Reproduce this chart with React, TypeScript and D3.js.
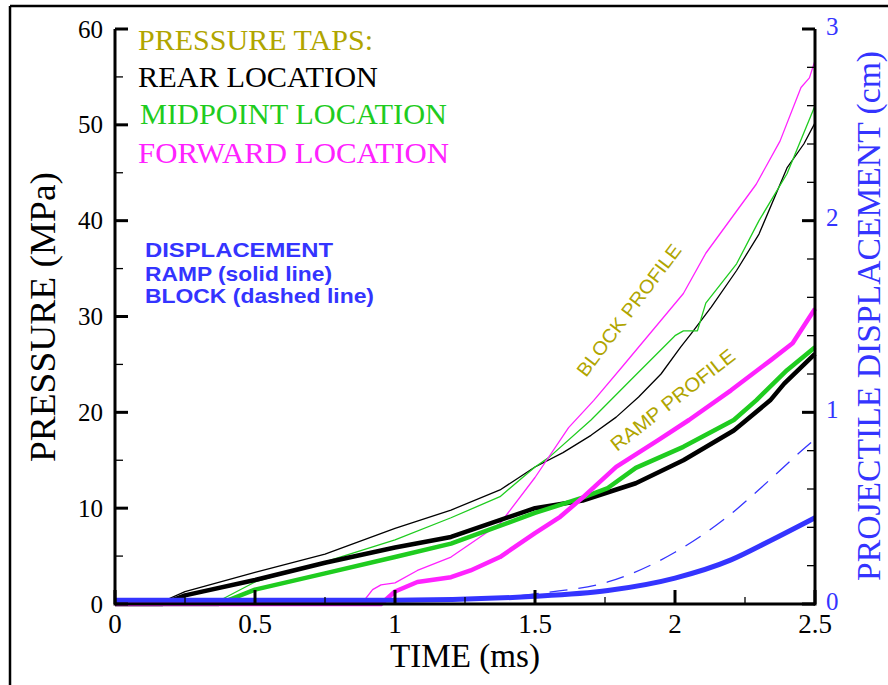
import React from "react";
import * as d3 from "d3";

// axis ticks
const timeTicks = [0, 0.5, 1, 1.5, 2, 2.5];
const timeMinor = [0.25, 0.75, 1.25, 1.75, 2.25];
const pressureTicks = [0, 10, 20, 30, 40, 50, 60];
const pressureMinor = [5, 15, 25, 35, 45, 55];
const dispTicks = [0, 1, 2, 3];
const dispMinor = [0.2, 0.4, 0.6, 0.8, 1.2, 1.4, 1.6, 1.8, 2.2, 2.4, 2.6, 2.8];

// block profile (thin lines), pressure in MPa
const blockRearT = [0, 0.15, 0.25, 0.5, 0.75, 1.0, 1.2, 1.375, 1.5, 1.6, 1.7, 1.79, 1.87, 1.95, 2.02, 2.06, 2.13, 2.22, 2.3, 2.4, 2.46, 2.5];
const blockRearP = [0, 0, 1.3, 3.3, 5.2, 7.9, 9.8, 11.9, 14.3, 15.8, 17.6, 19.5, 21.6, 24.0, 26.8, 28.3, 31.0, 34.8, 38.6, 45.5, 48.0, 50.2];
const blockMidT = [0, 0.35, 0.5, 0.75, 1.0, 1.2, 1.375, 1.5, 1.55, 1.7, 1.85, 2.0, 2.03, 2.08, 2.11, 2.22, 2.3, 2.4, 2.5];
const blockMidP = [0, 0, 2.3, 4.4, 6.7, 9.0, 11.2, 14.3, 15.3, 19.2, 23.6, 28.0, 28.5, 28.5, 31.4, 35.5, 40.0, 44.9, 52.0];
const blockFwdT = [0, 0.88, 0.92, 0.95, 1.0, 1.08, 1.2, 1.375, 1.5, 1.62, 1.71, 1.81, 2.03, 2.11, 2.29, 2.375, 2.45, 2.48, 2.5];
const blockFwdP = [0, 0, 1.5, 2.0, 2.2, 3.5, 4.9, 8.4, 13.2, 18.4, 21.25, 24.7, 32.4, 36.6, 43.8, 48.3, 53.9, 54.9, 56.7];

// ramp profile (thick lines)
const rampRearT = [0, 0.17, 0.25, 0.5, 0.75, 1.0, 1.2, 1.5, 1.67, 1.86, 2.03, 2.21, 2.34, 2.39, 2.5];
const rampRearP = [0, 0, 0.9, 2.5, 4.3, 5.9, 7.0, 10.0, 10.8, 12.6, 15.0, 18.1, 21.25, 23.0, 26.1];
const rampMidT = [0, 0.37, 0.5, 0.75, 1.0, 1.2, 1.5, 1.67, 1.76, 1.86, 2.03, 2.21, 2.29, 2.4, 2.5];
const rampMidP = [0, 0, 1.5, 3.2, 4.9, 6.3, 9.5, 11.1, 12.1, 14.2, 16.4, 19.2, 21.25, 24.4, 26.8];
const rampFwdT = [0, 0.95, 1.0, 1.08, 1.2, 1.27, 1.375, 1.5, 1.59, 1.67, 1.79, 1.94, 2.05, 2.2, 2.34, 2.42, 2.46, 2.5];
const rampFwdP = [0, 0, 1.3, 2.3, 2.8, 3.5, 4.9, 7.4, 9.1, 11.1, 14.3, 17.1, 19.2, 22.3, 25.4, 27.2, 29.0, 30.8];

// projectile displacement in cm
const rampDispT = [0, 1.0, 1.5, 1.76, 2.0, 2.2, 2.34, 2.5];
const rampDispD = [0.02, 0.02, 0.04, 0.07, 0.135, 0.23, 0.33, 0.45];
const blockDispT = [0, 1.2, 1.54, 1.76, 2.0, 2.2, 2.34, 2.46, 2.5];
const blockDispD = [0.02, 0.02, 0.06, 0.115, 0.27, 0.47, 0.65, 0.81, 0.86];

const BLACK = "#000000";
const GREEN = "#1fcc1f";
const MAGENTA = "#ff22ff";
const BLUE = "#3434ff";
const OLIVE = "#b0a500";

const zip = (t: number[], v: number[]) => t.map((d, i) => [d, v[i]] as [number, number]);

const App = () => {
  const tWidth = 888;
  const tHeight = 685;

  const x = d3.scaleLinear().domain([0, 2.5]).range([115, 815]);
  const yP = d3.scaleLinear().domain([0, 60]).range([604, 29]);
  const yD = d3.scaleLinear().domain([0, 3]).range([604, 29]);

  const lineP = d3.line<[number, number]>().x((d) => x(d[0])).y((d) => yP(d[1]));
  const lineD = d3
    .line<[number, number]>()
    .x((d) => x(d[0]))
    .y((d) => yD(d[1]))
    .curve(d3.curveMonotoneX);

  const series = [
    { d: lineP(zip(blockRearT, blockRearP)), color: BLACK, w: 1.3 },
    { d: lineP(zip(blockMidT, blockMidP)), color: GREEN, w: 1.3 },
    { d: lineP(zip(blockFwdT, blockFwdP)), color: MAGENTA, w: 1.3 },
    { d: lineP(zip(rampRearT, rampRearP)), color: BLACK, w: 4.5 },
    { d: lineP(zip(rampMidT, rampMidP)), color: GREEN, w: 4.5 },
    { d: lineP(zip(rampFwdT, rampFwdP)), color: MAGENTA, w: 4.5 },
    { d: lineD(zip(blockDispT, blockDispD)), color: BLUE, w: 1.3, dash: "18 11" },
    { d: lineD(zip(rampDispT, rampDispD)), color: BLUE, w: 5 },
  ];

  const serif = "'Liberation Serif', 'Times New Roman', serif";
  const sans = "'Liberation Sans', Arial, sans-serif";

  return (
    <div id="chartD3">
      <svg
        width={tWidth}
        height={tHeight}
        style={{ position: "absolute", left: 0, top: 0, background: "#fff" }}
      >
        {/* outer frame */}
        <line x1={10} y1={6} x2={tWidth} y2={6} stroke="#000" strokeWidth={2.5} />
        <line x1={10} y1={6} x2={10} y2={tHeight} stroke="#000" strokeWidth={2.5} />

        {/* curves */}
        {series.map((s, i) => (
          <path
            key={i}
            d={s.d || ""}
            fill="none"
            stroke={s.color}
            strokeWidth={s.w}
            strokeDasharray={s.dash}
            strokeLinejoin="round"
          />
        ))}

        {/* axes lines */}
        <line x1={x(0)} y1={yP(60)} x2={x(0)} y2={yP(0) + 1.5} stroke="#000" strokeWidth={3} />
        <line x1={x(0)} y1={yP(0)} x2={x(2.5)} y2={yP(0)} stroke="#000" strokeWidth={3} />
        <line x1={x(2.5)} y1={yD(3)} x2={x(2.5)} y2={yD(0) + 1.5} stroke="#000" strokeWidth={3} />

        {/* left axis */}
        {pressureTicks.map((v) => (
          <g key={"p" + v}>
            <line x1={x(0)} x2={x(0) + 13} y1={yP(v)} y2={yP(v)} stroke="#000" strokeWidth={3} />
            <text x={103} y={yP(v)} dy="0.34em" textAnchor="end" fontFamily={serif} fontSize={25}>
              {v}
            </text>
          </g>
        ))}
        {pressureMinor.map((v) => (
          <line key={"pm" + v} x1={x(0)} x2={x(0) + 8} y1={yP(v)} y2={yP(v)} stroke="#000" strokeWidth={1.3} />
        ))}

        {/* bottom axis */}
        {timeTicks.map((v) => (
          <g key={"t" + v}>
            <line x1={x(v)} x2={x(v)} y1={yP(0)} y2={yP(0) - 14} stroke="#000" strokeWidth={3} />
            <text x={x(v)} y={633} textAnchor="middle" fontFamily={serif} fontSize={27}>
              {v}
            </text>
          </g>
        ))}
        {timeMinor.map((v) => (
          <line key={"tm" + v} x1={x(v)} x2={x(v)} y1={yP(0)} y2={yP(0) - 7} stroke="#000" strokeWidth={1.3} />
        ))}

        {/* right axis */}
        {dispTicks.map((v) => (
          <g key={"d" + v}>
            <line x1={x(2.5)} x2={x(2.5) - 13} y1={yD(v)} y2={yD(v)} stroke="#000" strokeWidth={3} />
            <text x={826} y={yD(v) - 3} dy="0.34em" textAnchor="start" fontFamily={serif} fontSize={25} fill={BLUE}>
              {v}
            </text>
          </g>
        ))}
        {dispMinor.map((v) => (
          <line key={"dm" + v} x1={x(2.5)} x2={x(2.5) - 8} y1={yD(v)} y2={yD(v)} stroke="#000" strokeWidth={1.3} />
        ))}

        {/* axis titles */}
        <text x={465} y={667} textAnchor="middle" fontFamily={serif} fontSize={33} textLength={150} lengthAdjust="spacingAndGlyphs">
          TIME (ms)
        </text>
        <text
          transform="translate(55,317) rotate(-90)"
          textAnchor="middle"
          fontFamily={serif}
          fontSize={36}
          textLength={290}
          lengthAdjust="spacingAndGlyphs"
        >
          PRESSURE (MPa)
        </text>
        <text
          transform="translate(880,316) rotate(-90)"
          textAnchor="middle"
          fontFamily={serif}
          fontSize={34}
          fill={BLUE}
          textLength={530}
          lengthAdjust="spacingAndGlyphs"
        >
          PROJECTILE DISPLACEMENT (cm)
        </text>

        {/* legend */}
        <g fontFamily={serif} fontSize={29}>
          <text x={138} y={50} fill={OLIVE} textLength={235} lengthAdjust="spacingAndGlyphs">PRESSURE TAPS:</text>
          <text x={138} y={87} fill={BLACK} textLength={240} lengthAdjust="spacingAndGlyphs">REAR LOCATION</text>
          <text x={140} y={124} fill={GREEN} textLength={307} lengthAdjust="spacingAndGlyphs">MIDPOINT LOCATION</text>
          <text x={138} y={163} fill={MAGENTA} textLength={311} lengthAdjust="spacingAndGlyphs">FORWARD LOCATION</text>
        </g>
        <g fontFamily={sans} fontSize={21} fontWeight="bold" fill={BLUE}>
          <text x={145} y={257} textLength={188} lengthAdjust="spacingAndGlyphs">DISPLACEMENT</text>
          <text x={145} y={281} textLength={187} lengthAdjust="spacingAndGlyphs">RAMP (solid line)</text>
          <text x={145} y={303} textLength={229} lengthAdjust="spacingAndGlyphs">BLOCK (dashed line)</text>
        </g>

        {/* profile annotations */}
        <text transform="translate(586,378) rotate(-53)" fontFamily={sans} fontSize={19} fill={OLIVE} textLength={160} lengthAdjust="spacingAndGlyphs">
          BLOCK PROFILE
        </text>
        <text transform="translate(617,452) rotate(-38)" fontFamily={sans} fontSize={19.5} fill={OLIVE} textLength={152} lengthAdjust="spacingAndGlyphs">
          RAMP PROFILE
        </text>
      </svg>
    </div>
  );
};

export default App;
